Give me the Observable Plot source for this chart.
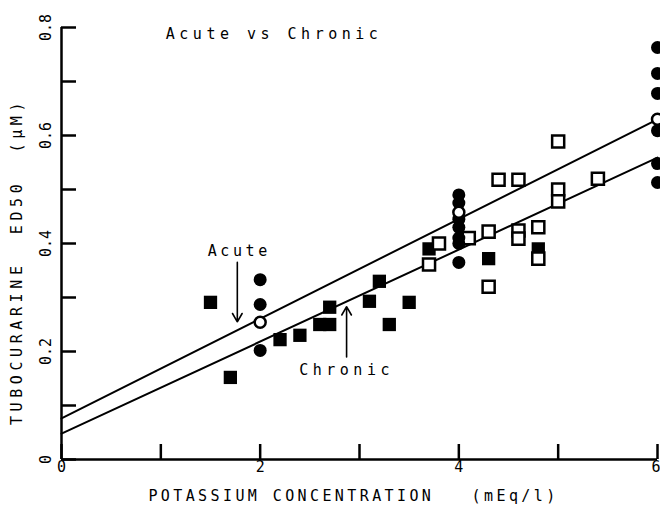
<!DOCTYPE html>
<html><head><meta charset="utf-8">
<script src="https://cdn.jsdelivr.net/npm/d3@7"></script>
<script src="https://cdn.jsdelivr.net/npm/@observablehq/plot@0.6"></script>
<style>
body{margin:0;background:#fff;}
#chart svg{font-family:"DejaVu Sans Mono",monospace;background:#fff;}
</style></head><body><div id="chart"></div>
<script>
// Axis ticks and labels
const xTicks = [0, 1, 2, 3, 4, 5, 6];
const xLabels = [0, 2, 4, 6];
const yTicks = [0, 0.1, 0.2, 0.3, 0.4, 0.5, 0.6, 0.7, 0.8];
const yLabels = [0, 0.2, 0.4, 0.6, 0.8];

// Acute: individual values (filled circles) and means (open circles)
const acuteX = [2, 2, 2, 4, 4, 4, 4, 4, 4, 4, 6, 6, 6, 6, 6, 6];
const acuteY = [0.333, 0.287, 0.202, 0.49, 0.475, 0.445, 0.43, 0.41, 0.40, 0.365, 0.763, 0.715, 0.678, 0.609, 0.548, 0.513];
const acuteMeanX = [2, 4, 6];
const acuteMeanY = [0.254, 0.458, 0.63];

// Chronic: filled squares and open squares
const chronicFilledX = [1.5, 1.7, 2.2, 2.4, 2.6, 2.7, 2.7, 3.1, 3.2, 3.3, 3.5, 3.7, 4.3, 4.8];
const chronicFilledY = [0.291, 0.152, 0.222, 0.23, 0.25, 0.25, 0.282, 0.293, 0.33, 0.25, 0.291, 0.39, 0.372, 0.39];
const chronicOpenX = [3.7, 3.8, 4.1, 4.3, 4.3, 4.4, 4.6, 4.6, 4.6, 4.8, 4.8, 5.0, 5.0, 5.0, 5.4];
const chronicOpenY = [0.361, 0.40, 0.41, 0.422, 0.32, 0.518, 0.518, 0.424, 0.409, 0.43, 0.372, 0.589, 0.50, 0.478, 0.52];

// Regression lines
const fitX = [0, 6];
const acuteFitY = [0.076, 0.63];
const chronicFitY = [0.048, 0.559];

// Annotations
const annoText = ["Acute", "Chronic"];
const annoX = [1.79, 2.87];
const annoY = [0.386, 0.165];
const arrowX = [1.77, 2.87];
const arrowY1 = [0.365, 0.19];
const arrowY2 = [0.255, 0.283];

const titleText = "Acute vs Chronic";
const titleX = [1.05];
const titleY = [0.787];
const xTitle = "POTASSIUM CONCENTRATION\u00a0\u00a0\u00a0(mEq/l)";
const yTitle = "TUBOCURARINE\u00a0\u00a0ED50\u00a0\u00a0(\u03bcM)";

const zip = (xs, ys) => xs.map((x, i) => ({x, y: ys[i]}));

const W = 660, H = 512, mL = 61, mR = 3, mT = 27, mB = 53;
const frameW = W - mL - mR, frameH = H - mT - mB;
const tickLen = 15;
const lastX = xLabels[xLabels.length - 1];

const chart = Plot.plot({
  width: W, height: H,
  marginLeft: mL, marginRight: mR, marginTop: mT, marginBottom: mB,
  x: {domain: [0, 6], axis: null},
  y: {domain: [0, 0.8], axis: null},
  style: {fontFamily: "DejaVu Sans Mono, monospace", fontSize: "15px", color: "#000", background: "#fff"},
  marks: [
    // axis lines
    Plot.ruleX([0], {x: d => d, stroke: "#000", strokeWidth: 2.5}),
    Plot.ruleY([0], {y: d => d, stroke: "#000", strokeWidth: 2.5}),
    // inward ticks
    Plot.tickY(yTicks, {y: d => d, insetRight: frameW - tickLen, stroke: "#000", strokeWidth: 2.5}),
    Plot.tickX(xTicks, {x: d => d, insetTop: frameH - tickLen, stroke: "#000", strokeWidth: 2.5}),
    // tick labels
    Plot.text(xLabels.filter(d => d !== lastX), {x: d => d, frameAnchor: "bottom", dy: 12, text: d => String(d), fontSize: 15}),
    Plot.text(xLabels.filter(d => d === lastX), {x: d => d, frameAnchor: "bottom", textAnchor: "end", dx: 3, dy: 12, text: d => String(d), fontSize: 15}),
    Plot.text(yLabels, {y: d => d, frameAnchor: "left", textAnchor: "middle", dx: -15, rotate: -90, text: d => String(d), fontSize: 15}),
    // axis titles
    Plot.text([xTitle], {frameAnchor: "bottom", dy: 41, dx: -6, text: d => d, fontSize: 15}),
    Plot.text([yTitle], {frameAnchor: "left", textAnchor: "middle", dx: -44, dy: 18, rotate: -90, text: d => d, fontSize: 15}),
    // fit lines
    Plot.line(zip(fitX, acuteFitY), {x: "x", y: "y", stroke: "#000", strokeWidth: 2}),
    Plot.line(zip(fitX, chronicFitY), {x: "x", y: "y", stroke: "#000", strokeWidth: 2}),
    // points
    Plot.dot(zip(chronicFilledX, chronicFilledY), {x: "x", y: "y", symbol: "square", r: 7.5, fill: "#000"}),
    Plot.dot(zip(chronicOpenX, chronicOpenY), {x: "x", y: "y", symbol: "square", r: 6.8, fill: "#fff", stroke: "#000", strokeWidth: 2.5}),
    Plot.dot(zip(acuteX, acuteY), {x: "x", y: "y", r: 6.5, fill: "#000"}),
    Plot.dot(zip(acuteMeanX, acuteMeanY), {x: "x", y: "y", r: 5.5, fill: "#fff", stroke: "#000", strokeWidth: 2.5}),
    // annotations
    Plot.arrow(arrowX.map((x, i) => ({x, y1: arrowY1[i], y2: arrowY2[i]})), {x1: "x", x2: "x", y1: "y1", y2: "y2", stroke: "#000", strokeWidth: 1.6, headLength: 9}),
    Plot.text(annoText.map((t, i) => ({t, x: annoX[i], y: annoY[i]})), {x: "x", y: "y", text: "t", fontSize: 15}),
    Plot.text(titleX.map((x, i) => ({x, y: titleY[i], t: titleText})), {x: "x", y: "y", text: "t", textAnchor: "start", fontSize: 15})
  ]
});

d3.select(chart).selectAll("text").each(function() {
  const t = this.textContent;
  let ls = 4.5;
  if (t.startsWith("POTASSIUM")) ls = 3.4;
  else if (t.startsWith("TUBOCURARINE")) ls = 4.6;
  else if (t.startsWith("Acute") && t.length === 5) ls = 3.6;
  else if (t.length <= 3) ls = 0;
  d3.select(this).style("letter-spacing", ls + "px");
});

document.getElementById("chart").appendChild(chart);
</script>
</body></html>
